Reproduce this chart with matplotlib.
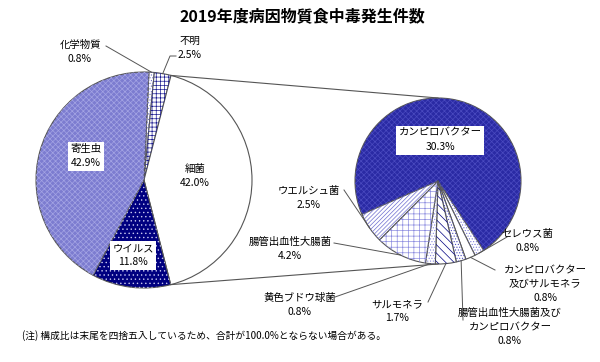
import numpy as np
import matplotlib
matplotlib.use("Agg")
import matplotlib.pyplot as plt
from matplotlib.patches import Wedge

plt.rcParams['font.family'] = ['Noto Sans CJK JP', 'DejaVu Sans']
plt.rcParams['hatch.linewidth'] = 0.5

title = "2019年度病因物質食中毒発生件数"
note = "(注) 構成比は末尾を四捨五入しているため、合計が100.0%とならない場合がある。"

# main pie (clockwise from the top)
main_labels = ["化学物質", "不明", "細菌", "ウイルス", "寄生虫"]
main_values = [0.8, 2.5, 42.0, 11.8, 42.9]

# breakdown of 細菌 (share of all cases)
sub_labels = ["カンピロバクター", "セレウス菌", "カンピロバクター\n及びサルモネラ",
              "腸管出血性大腸菌及び\nカンピロバクター", "サルモネラ", "黄色ブドウ球菌",
              "腸管出血性大腸菌", "ウエルシュ菌"]
sub_values = [30.3, 0.8, 0.8, 0.8, 1.7, 0.8, 4.2, 2.5]

H = 362


def p(x, y):
    # image pixel coords -> axes coords (y up)
    return (x, H - y)


# face, hatch, hatch colour
main_style = [
    ("white", "......", "#7070c8"),
    ("white", "++++", "#1c1c90"),
    ("white", None, None),
    ("#000080", "....", "#c8c8f0"),
    ("#7c7cd0", "xxxxxx", "#a4a4e4"),
]
sub_style = [
    ("#2a2aa4", "xxxxxx", "#4a4ac0"),
    ("white", "......", "#7c7cd8"),
    ("white", None, None),
    ("white", "......", "#5050c0"),
    ("white", "\\\\\\\\", "#000080"),
    ("white", "......", "#8c8ce0"),
    ("white", "+++", "#8c8ce0"),
    ("white", "////////", "#6e6ed0"),
]

fig = plt.figure(figsize=(6, 3.62), dpi=100)
ax = fig.add_axes([0, 0, 1, 1])
ax.set_xlim(0, 600)
ax.set_ylim(0, H)
ax.set_aspect("equal")
ax.axis("off")

main_c, main_r = p(144, 180), 108
sub_c, sub_r = p(438, 181), 83


def draw_pie(values, styles, center, radius, start):
    wedges, _ = ax.pie(values, colors=[s[0] for s in styles], startangle=start,
                       counterclock=False, center=center, radius=radius,
                       wedgeprops=dict(edgecolor="#555555", linewidth=0.8))
    for w, (fc, hatch, hc) in zip(wedges, styles):
        if hatch:
            ax.add_patch(Wedge(w.center, w.r, w.theta1, w.theta2, fill=False,
                               hatch=hatch, edgecolor=hc, linewidth=0, zorder=w.get_zorder() + 0.1))
    return wedges


mw = draw_pie(main_values, main_style, main_c, main_r, 87.4)
sw = draw_pie(sub_values, sub_style, sub_c, sub_r, 203.7)
ax.set_xlim(0, 600)
ax.set_ylim(0, H)


def edge_pt(w, frac=1.0, ang=None):
    a = np.deg2rad((w.theta1 + w.theta2) / 2 if ang is None else ang)
    return (w.center[0] + frac * w.r * np.cos(a), w.center[1] + frac * w.r * np.sin(a))


# connector lines between 細菌 and the sub pie
bw = mw[2]
top = edge_pt(bw, ang=bw.theta2)
bot = edge_pt(bw, ang=bw.theta1)
ax.plot([top[0], sub_c[0]], [top[1], sub_c[1] + sub_r], color="#555555", lw=0.8)
ax.plot([bot[0], sub_c[0]], [bot[1], sub_c[1] - sub_r], color="#555555", lw=0.8)

fs = 7.5
box = dict(facecolor="white", edgecolor="none", pad=1.8)


def label(text, xy, **kw):
    ax.text(*p(*xy), text, fontsize=fs, ha="center", va="center", linespacing=1.5, **kw)


# main pie labels
label("寄生虫\n42.9%", (86, 156), bbox=box)
label("細菌\n42.0%", (195, 176))
label("ウイルス\n11.8%", (133, 255), bbox=box)
label("化学物質\n0.8%", (80, 52))
label("不明\n2.5%", (190, 48))
ax.plot(*zip(p(106, 46), edge_pt(mw[0], 1.0)), color="#555555", lw=0.7)
ax.plot(*zip(p(176, 56), p(170, 56), edge_pt(mw[1], 1.0)), color="#555555", lw=0.7)

# sub pie labels
label("カンピロバクター\n30.3%", (440, 140), bbox=box)
sub_text = [
    None,
    ("セレウス菌\n0.8%", (527, 241), (507, 237)),
    ("カンピロバクター\n及びサルモネラ\n0.8%", (545, 284), (495, 270)),
    ("腸管出血性大腸菌及び\nカンピロバクター\n0.8%", (510, 327), (463, 320)),
    ("サルモネラ\n1.7%", (397, 311), (428, 302)),
    ("黄色ブドウ球菌\n0.8%", (300, 305), (335, 297)),
    ("腸管出血性大腸菌\n4.2%", (290, 249), (334, 243)),
    ("ウエルシュ菌\n2.5%", (309, 198), (344, 190)),
]
for w, item in zip(sw, sub_text):
    if item is None:
        continue
    text, xy, start = item
    label(text, xy)
    ax.plot(*zip(p(*start), edge_pt(w, 1.0)), color="#555555", lw=0.7)

ax.text(*p(302, 16), title, fontsize=11.5, ha="center", va="center", fontweight="bold")
ax.text(*p(22, 336), note, fontsize=7, ha="left", va="center")

fig.savefig("out.png", dpi=100)
